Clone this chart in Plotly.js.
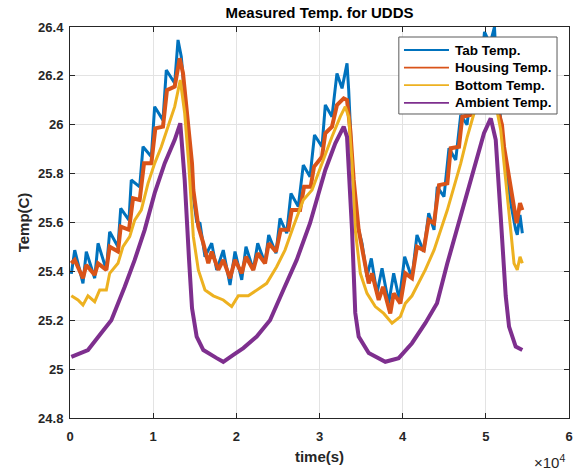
<!DOCTYPE html>
<html>
<head>
<meta charset="utf-8">
<script src="https://cdn.plot.ly/plotly-3.0.1.min.js"></script>
<style>html,body{margin:0;padding:0;background:#fff;}#chart{width:583px;height:472px;}</style>
</head>
<body>
<div id="chart"></div>
<script>
// Time in seconds, temperatures in deg C
const tabTime = [160,570,1560,1960,2970,3370,4370,4770,5770,6100,7090,7370,8380,8780,9780,10180,11180,11580,12590,12990,13380,13980,14310,14590,14830,15230,15630,16230,17040,17640,18430,19240,19840,20650,21160,22040,22570,23450,23890,24770,25250,26060,26570,27450,28050,28860,29400,30300,30700,31500,32100,32710,33310,33510,33910,34510,35110,35710,36230,36910,37520,38320,38920,39600,40240,41120,41720,42530,43130,43770,44160,44970,45570,46380,46980,47740,48340,49180,49840,50500,51040,51400,51790,52390,52990,53590,53780,54110,54390];
const tabTemp = [25.39,25.487,25.351,25.481,25.372,25.515,25.406,25.562,25.501,25.658,25.61,25.774,25.746,25.91,25.869,26.074,26.019,26.224,26.17,26.347,26.278,26.047,25.87,25.75,25.706,25.603,25.597,25.46,25.515,25.406,25.487,25.344,25.481,25.365,25.501,25.406,25.515,25.433,25.549,25.474,25.617,25.556,25.719,25.665,25.835,25.787,25.958,25.91,26.081,26.033,26.21,26.149,26.251,26.142,25.842,25.597,25.515,25.378,25.453,25.31,25.413,25.269,25.392,25.283,25.46,25.372,25.549,25.481,25.638,25.57,25.746,25.706,25.904,25.856,26.04,26.0,26.18,26.14,26.38,26.33,26.4,26.15,26.019,25.842,25.679,25.57,25.55,25.631,25.556];

const housingTime = [160,570,1560,1960,2970,3370,4370,4770,5770,6100,7090,7580,8380,8900,9780,10260,11180,11660,12590,13190,13590,14190,14430,14670,14830,15430,16030,16630,17040,17830,18430,19240,19840,20650,21160,22040,22570,23450,23890,24770,25330,26250,26660,27660,28140,28940,29340,30300,30700,31500,32100,32910,33310,33700,34110,34710,35310,35920,36310,37120,37640,38510,38920,39720,40320,41120,41720,42530,43130,43770,44370,45370,45780,46770,47170,48100,48460,49420,49780,50740,51460,51940,52190,52790,53390,53710,54110,54390];
const housingTemp = [25.433,25.447,25.372,25.426,25.385,25.433,25.406,25.501,25.481,25.583,25.57,25.699,25.692,25.842,25.842,25.985,25.992,26.142,26.156,26.272,26.21,26.019,25.951,25.842,25.733,25.583,25.515,25.433,25.481,25.406,25.447,25.372,25.447,25.392,25.46,25.406,25.474,25.433,25.515,25.481,25.57,25.57,25.651,25.651,25.746,25.746,25.828,25.869,25.965,25.992,26.081,26.108,26.101,25.979,25.774,25.57,25.46,25.351,25.392,25.283,25.337,25.228,25.31,25.269,25.392,25.372,25.501,25.487,25.61,25.597,25.753,25.76,25.904,25.91,26.033,26.04,26.14,26.14,26.24,26.22,26.06,26.0,25.91,25.787,25.679,25.597,25.679,25.651];

const bottomTime = [160,960,1560,2160,2970,3570,4370,4770,5770,6370,7180,7780,8570,9380,10180,10980,11780,12590,13260,13790,14270,14430,14670,14830,15430,16230,17230,18430,19440,20240,21440,22450,23650,24850,25850,26850,28050,29100,30300,31500,32500,33100,33510,33910,34300,34910,35710,36710,37720,38720,39720,40320,41120,41930,42720,43770,44570,45370,46170,46980,47770,48580,49540,50500,51100,51790,52390,52990,53390,53780,54110,54390];
const bottomTemp = [25.30,25.283,25.262,25.30,25.276,25.324,25.324,25.392,25.433,25.501,25.542,25.61,25.651,25.76,25.842,25.91,25.992,26.074,26.183,26.047,25.842,25.75,25.597,25.542,25.406,25.324,25.30,25.283,25.256,25.30,25.30,25.324,25.351,25.419,25.487,25.583,25.692,25.733,25.842,25.951,26.033,26.074,26.033,25.842,25.57,25.392,25.31,25.256,25.228,25.188,25.215,25.269,25.30,25.351,25.406,25.487,25.57,25.651,25.746,25.842,25.951,26.047,26.12,26.16,26.1,25.979,25.774,25.57,25.433,25.406,25.46,25.433];

const ambientTime = [160,2160,3760,4970,6580,7780,8980,10180,11390,12590,13260,13790,14310,14670,15230,16030,17640,18430,19640,20840,22450,24050,25650,27260,28860,29460,30700,31900,32910,33310,33910,34300,34710,35920,37910,39520,41120,42720,44130,45370,46980,48580,49780,50590,51190,51790,52390,52790,53590,54390];
const ambientTemp = [25.05,25.078,25.148,25.20,25.337,25.447,25.57,25.72,25.843,25.938,26.006,25.774,25.45,25.25,25.133,25.078,25.045,25.03,25.058,25.086,25.133,25.20,25.324,25.447,25.597,25.67,25.815,25.924,25.992,25.95,25.57,25.23,25.133,25.066,25.03,25.045,25.106,25.188,25.27,25.433,25.624,25.815,25.965,26.026,25.938,25.624,25.30,25.174,25.092,25.078];

const seriesNames = ['Tab Temp.','Housing Temp.','Bottom Temp.','Ambient Temp.'];
const seriesColors = ['#0072BD','#D95319','#EDB120','#7E2F8E'];
const xTickVals = [0,10000,20000,30000,40000,50000,60000];
const xTickText = ['0','1','2','3','4','5','6'];

const FONT = 'Liberation Sans, Arial, Helvetica, sans-serif';
const widths = [3,4,3,4];
const xs = [tabTime, housingTime, bottomTime, ambientTime];
const ys = [tabTemp, housingTemp, bottomTemp, ambientTemp];

const traces = xs.map((x,i)=>({
  type:'scatter', mode:'lines', x:x, y:ys[i], name:seriesNames[i],
  showlegend:false, line:{color:seriesColors[i], width:widths[i]}
}));

// Legend box (MATLAB style) built from shapes + annotations, in paper coordinates
const LEG = {x0:0.659, x1:0.976, y0:0.7775, y1:0.9744, lineX0:0.6693, lineX1:0.7595, textX:0.7675};
const rowY = i => LEG.y1 - (13 + 17.6*i)/391;
const shapes = [{
  type:'rect', xref:'paper', yref:'paper', x0:LEG.x0, x1:LEG.x1, y0:LEG.y0, y1:LEG.y1,
  fillcolor:'#ffffff', line:{color:'#5a5a5a', width:1}, layer:'above'
}];
const annotations = [];
seriesNames.forEach((n,i)=>{
  shapes.push({type:'line', xref:'paper', yref:'paper', x0:LEG.lineX0, x1:LEG.lineX1, y0:rowY(i), y1:rowY(i),
    line:{color:seriesColors[i], width:1.8}, layer:'above'});
  annotations.push({text:n, xref:'paper', yref:'paper', x:LEG.textX, y:rowY(i), xanchor:'left', yanchor:'middle',
    showarrow:false, font:{family:FONT, size:13.5, color:'#000', weight:'bold'}});
});
annotations.push({
  text:'×10<sup>4</sup>', xref:'paper', yref:'paper', x:0.995, y:-0.112,
  xanchor:'right', yanchor:'middle', showarrow:false,
  font:{family:FONT, size:15, color:'#262626'}
});

const axisCommon = {
  showline:true, linecolor:'#262626', linewidth:1, mirror:'ticks',
  ticks:'inside', ticklen:5, tickcolor:'#262626', tickwidth:1,
  showgrid:true, gridcolor:'#e3e3e3', gridwidth:1, zeroline:false,
  tickfont:{family:FONT, size:13, color:'#262626', weight:'bold'}
};

const layout = {
  width:583, height:472,
  margin:{l:70, r:14, t:27, b:54},
  paper_bgcolor:'#ffffff', plot_bgcolor:'#ffffff',
  showlegend:false,
  title:{text:'Measured Temp. for UDDS', font:{family:FONT, size:15, color:'#000', weight:'bold'},
         x:0.5, xref:'paper', y:0.973, yref:'container', yanchor:'middle'},
  xaxis:Object.assign({}, axisCommon, {
    range:[0,60000], tickmode:'array', tickvals:xTickVals, ticktext:xTickText,
    ticklabelstandoff:6,
    title:{text:'time(s)', font:{family:FONT, size:15, color:'#262626', weight:'bold'}, standoff:8}
  }),
  yaxis:Object.assign({}, axisCommon, {
    range:[24.8,26.4], dtick:0.2, tick0:24.8,
    ticklabelstandoff:3,
    title:{text:'Temp(C)', font:{family:FONT, size:15, color:'#262626', weight:'bold'}, standoff:4}
  }),
  shapes:shapes,
  annotations:annotations
};

Plotly.newPlot('chart', traces, layout, {displayModeBar:false, staticPlot:true});
</script>
</body>
</html>
